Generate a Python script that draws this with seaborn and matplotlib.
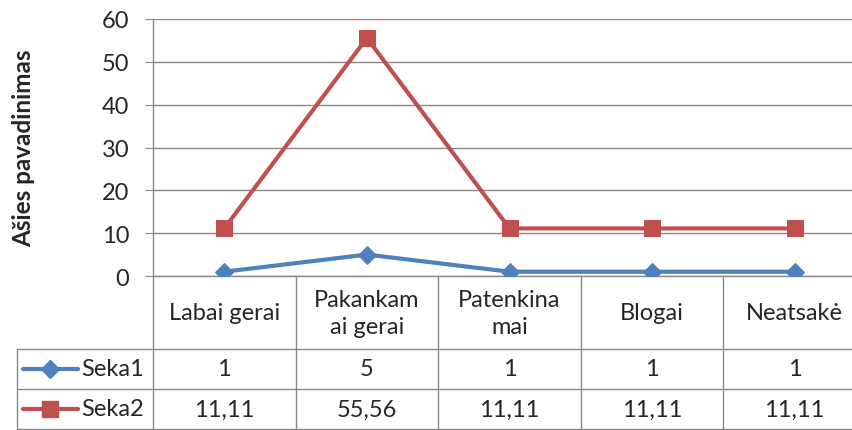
import numpy as np
import pandas as pd
import matplotlib.pyplot as plt
import seaborn as sns

# data
categories = ['Labai gerai', 'Pakankam\nai gerai', 'Patenkina\nmai', 'Blogai', 'Neatsakė']
seka1 = [1, 5, 1, 1, 1]
seka2 = [11.11, 55.56, 11.11, 11.11, 11.11]
seka1_labels = ['1', '5', '1', '1', '1']
seka2_labels = ['11,11', '55,56', '11,11', '11,11', '11,11']
series_names = ['Seka1', 'Seka2']
yticks = [0, 10, 20, 30, 40, 50, 60]

blue = '#4F81BD'
red = '#C0504D'
gray = '#898989'
fs = 17

sns.set_style('white')
plt.rcParams['font.family'] = ['Lato', 'DejaVu Sans']

W, H = 852, 431
fig = plt.figure(figsize=(W / 100, H / 100), dpi=100)
# plot area in pixels (the right edge runs off the picture, as in the original)
left, top, bottom, right = 153, 20, 277, 866
ax = fig.add_axes([left / W, 1 - bottom / H, (right - left) / W, (bottom - top) / H])

xs = np.arange(len(categories))
df = pd.DataFrame({'x': np.concatenate([xs, xs]),
                   'y': seka1 + seka2,
                   'seka': [series_names[0]] * len(xs) + [series_names[1]] * len(xs)})

sns.lineplot(data=df[df.seka == 'Seka1'], x='x', y='y', color=blue, lw=3,
             marker='D', markersize=9, markeredgecolor=blue, ax=ax, zorder=4)
sns.lineplot(data=df[df.seka == 'Seka2'], x='x', y='y', color=red, lw=3,
             marker='s', markersize=12, markeredgecolor=red, ax=ax, zorder=4)

ax.set_xlim(-0.5, len(categories) - 0.5)
ax.set_ylim(0, 60)
ax.set_yticks(yticks)
ax.set_yticklabels([str(t) for t in yticks], fontsize=fs)
ax.set_xticks([])
ax.set_xlabel('')
ax.set_ylabel('Ašies pavadinimas', fontsize=17.5, fontweight='bold', labelpad=48)
ax.yaxis.grid(True, color=gray, lw=1)
ax.set_axisbelow(True)
for s in ['top', 'right', 'bottom']:
    ax.spines[s].set_visible(False)
ax.spines['left'].set_color(gray)
ax.spines['left'].set_linewidth(1)
ax.tick_params(axis='y', length=6, color=gray, left=True, pad=11)

# data table under the plot
trans = ax.get_xaxis_transform()
def fy(py):
    return (bottom - py) / (bottom - top)
def fx(px):
    return (px - left) / ((right - left) / len(categories)) - 0.5

x_leg = fx(17)
xr = len(categories) - 0.5
rows = [277, 350, 390, 430]
kw = dict(color=gray, lw=1, transform=trans, clip_on=False)
ax.plot([-0.5, xr], [fy(277)] * 2, **kw)
for r in rows[1:]:
    ax.plot([x_leg, xr], [fy(r)] * 2, **kw)
for i in range(len(categories) + 1):
    ax.plot([i - 0.5] * 2, [fy(277), fy(431)], **kw)
ax.plot([x_leg] * 2, [fy(350), fy(431)], **kw)

for i, c in enumerate(categories):
    ax.text(i, fy(314), c, ha='center', va='center', fontsize=fs,
            transform=trans, linespacing=1.35)
    ax.text(i, fy(370), seka1_labels[i], ha='center', va='center', fontsize=fs, transform=trans)
    ax.text(i, fy(410), seka2_labels[i], ha='center', va='center', fontsize=fs, transform=trans)

# legend keys inside the table
for name, col, mk, ms, py in [(series_names[0], blue, 'D', 9, 370),
                              (series_names[1], red, 's', 12, 410)]:
    ax.plot([fx(23), fx(78)], [fy(py)] * 2, color=col, lw=3, transform=trans, clip_on=False)
    ax.plot([fx(50)], [fy(py)], marker=mk, ms=ms, color=col, transform=trans, clip_on=False)
    ax.text(fx(81), fy(py), name, ha='left', va='center', fontsize=fs, transform=trans)

fig.savefig('out.png', dpi=100)
